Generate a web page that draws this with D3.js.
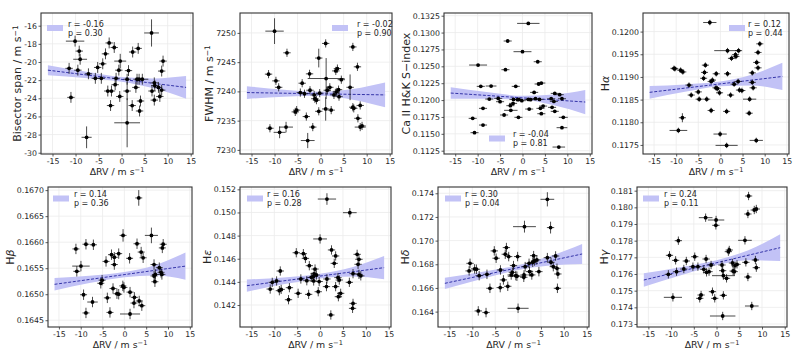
<!DOCTYPE html>
<html><head><meta charset="utf-8">
<script src="https://cdn.jsdelivr.net/npm/d3@7"></script>
<style>body{margin:0;background:#fff}svg{display:block;font-family:"DejaVu Sans",sans-serif}</style>
</head><body><svg id="c" width="800" height="357"></svg>
<script>
// ---------- DATA ----------
// points: [ΔRV, value, xerr?, yerr?]
const bisectorPts = [[-11.4,-20.7],[-11.0,-23.9],[-10.1,-17.7,2.0,0.6],[-9.5,-20.9],[-9.2,-18.8],[-9.0,-19.7,1.5,0.6],[-7.6,-28.3,1.1,1.2],[-7.2,-21.3],[-5.7,-21.8],[-5.2,-20.6],[-4.4,-21.8],[-4.1,-20.2],[-3.5,-19.1],[-3.0,-23.2],[-2.7,-17.9],[-2.4,-24.8],[-2.2,-23.2],[-1.6,-18.4],[-1.4,-22.5],[-1.2,-21.8],[-0.6,-20.9],[-0.3,-19.9,1.3,0.8],[-0.4,-23.8],[1.2,-26.7,2.8,2.7],[1.2,-21.9],[1.2,-23.2,0.8,1.0],[1.5,-20.95],[2.3,-24.8],[2.4,-18.9],[3.1,-22.8],[3.35,-21.9],[3.6,-18.5],[3.8,-21.9],[3.9,-25.4],[4.1,-24.3],[4.5,-21.9,1.3,0.6],[6.5,-16.8,1.6,1.5],[6.6,-23.2],[7.1,-22.3],[7.1,-24.2],[7.2,-22.6],[8.0,-22.8],[8.3,-23.8],[8.7,-21.0],[9.0,-19.9],[8.7,-23.1]];
const fwhmPts = [[-10.0,7250.3,2.0,2.2],[-11.3,7242.95],[-9.7,7241.8],[-9.1,7240.7],[-11.0,7233.7],[-8.9,7233.0,1.3,1.0],[-7.3,7246.6],[-7.5,7233.9,1.5,0.9],[-5.5,7236.5],[-5.2,7236.8],[-4.0,7241.4],[-4.4,7239.8],[-3.5,7239.6],[-3.1,7235.7],[-2.8,7231.6,1.5,1.3],[-2.4,7243.0],[-2.3,7240.2],[-1.7,7233.9],[-1.4,7239.4],[-1.25,7238.75],[-0.9,7238.5],[-0.4,7245.7,0.8,1.6],[-0.4,7236.6],[-0.2,7239.7],[1.1,7248.2],[1.2,7242.2,4.0,3.5],[1.1,7237.0,0.8,2.0],[1.45,7240.2],[2.0,7240.7],[2.3,7236.8],[2.9,7239.4],[3.3,7243.5],[3.4,7239.9],[3.65,7243.9],[3.9,7240.3],[4.0,7239.1],[4.5,7242.0],[6.4,7240.7,0.8,2.2],[7.0,7247.6],[7.0,7237.3],[7.2,7237.1],[8.0,7244.2],[8.1,7235.4],[8.6,7237.6],[8.6,7233.9,1.2,0.7],[9.0,7234.1]];
const caPts = [[1.3,0.13136,2.5],[-3.3,0.12875],[0.0,0.12717,2.0],[-9.9,0.12519,2.0],[3.4,0.12568],[-3.8,0.1245],[-9.3,0.12203],[-7.0,0.12208,1.2],[-1.5,0.12203],[3.6,0.12238],[4.2,0.12252],[-7.4,0.12015],[-5.4,0.12025],[-5.0,0.11976],[-2.7,0.11917],[-2.1,0.11951],[-2.0,0.1201],[-1.1,0.12006],[-0.8,0.1201],[-0.15,0.11991],[1.3,0.1201],[1.8,0.12006],[2.6,0.12114],[2.9,0.1202],[3.8,0.1201],[-8.8,0.11877],[-2.6,0.11848,1.5],[-4.1,0.11779],[-0.9,0.11744],[1.5,0.11867],[4.2,0.11798],[4.0,0.11877],[4.6,0.11911],[-11.1,0.11729],[-8.8,0.1163],[-10.7,0.11517],[6.4,0.1202],[7.2,0.12099],[8.3,0.1208],[8.8,0.1202],[6.6,0.11892],[7.2,0.11833],[9.1,0.11744,1.0],[8.8,0.11591,1.2],[8.1,0.11304,1.4],[7.0,0.1198]];
const haPts = [[-2.4,0.1202,1.5],[1.6,0.11958,3.0],[4.1,0.11958],[3.4,0.11949],[3.5,0.11945],[2.5,0.11941],[8.9,0.11973],[8.5,0.11954],[8.2,0.11932],[8.5,0.1192],[-10.5,0.11919],[-10.3,0.11918],[-9.0,0.11915],[-8.5,0.11911],[-3.4,0.11926],[-3.6,0.1191],[-3.8,0.11897],[-2.1,0.1189],[-1.8,0.11893],[-0.95,0.11907],[1.6,0.11907],[-7.1,0.11882],[-6.6,0.1186],[-5.0,0.11867],[-4.8,0.11851],[-3.1,0.11851],[-1.0,0.11876],[-0.7,0.11874],[-0.2,0.11865],[2.3,0.1186],[3.1,0.11884],[4.0,0.1189],[4.3,0.11871],[4.85,0.1187],[7.2,0.11909],[7.2,0.11888],[7.4,0.11876],[6.6,0.11851,1.5],[6.5,0.1182],[-2.1,0.11826],[1.4,0.11824],[-8.6,0.1181,0.8,0.0001],[-9.5,0.11782,2.0],[-0.07,0.11774,1.5],[1.4,0.11749,2.5],[8.1,0.1176,1.5]];
const hbPts = [[3.3,0.16685,0.8,0.00015],[-11.1,0.16587],[-8.8,0.16596],[-7.1,0.16595],[-10.9,0.16544],[-9.95,0.16554,2.0],[-9.35,0.16499],[-7.3,0.16485,1.2],[-8.8,0.16464],[-4.2,0.16563],[-5.4,0.16521],[-5.1,0.16527],[-3.9,0.16493],[-3.3,0.16465],[-2.95,0.16576],[-2.3,0.16571],[-2.3,0.16557],[-1.3,0.16578],[-2.6,0.16511],[-1.7,0.16501],[-1.3,0.165],[-0.3,0.16613,0.8,0.00012],[-0.35,0.16516],[-0.1,0.16513],[1.2,0.16569],[1.3,0.16462,2.3],[1.3,0.16504],[2.3,0.16494],[2.2,0.16483],[2.9,0.16597],[3.4,0.16487],[3.85,0.16581],[4.3,0.1657],[4.0,0.16478],[6.2,0.16613,1.5,0.00015],[6.8,0.16557],[7.1,0.16538],[6.8,0.16535],[7.0,0.16524],[8.0,0.16551],[8.4,0.16542],[8.7,0.16589],[8.9,0.16596],[8.6,0.16538]];
const hePts = [[1.5,0.15116,2.0,0.0005],[6.5,0.14998,1.5],[0.0,0.14771,1.5],[-5.2,0.14652],[-3.65,0.14644],[-3.2,0.14603],[2.5,0.14676],[3.4,0.14624],[3.1,0.1456],[8.1,0.14638],[8.5,0.14595],[8.3,0.14552],[-2.35,0.1454],[-1.1,0.14511],[-1.3,0.1447],[-8.7,0.14494],[-1.9,0.14439],[-1.5,0.14445],[-0.8,0.14459],[-4.2,0.14425],[-2.9,0.1441],[-1.4,0.14408],[-0.2,0.14403],[1.5,0.14425],[3.9,0.14437],[4.2,0.14416],[6.4,0.14396],[7.2,0.14471],[8.5,0.14465],[8.9,0.14452],[-10.45,0.14396],[-9.5,0.14408],[-10.9,0.14338],[-8.9,0.14324],[-8.5,0.14335],[-6.7,0.1435],[-6.9,0.14246],[-4.8,0.14301],[-2.5,0.14292],[-0.4,0.14315],[1.4,0.14359],[3.4,0.14359],[4.5,0.14301],[4.0,0.14272],[7.2,0.14214],[7.1,0.14171],[2.35,0.14114]];
const hdPts = [[6.4,0.17349,1.5,0.0006],[1.4,0.17118,2.5,0.0005],[7.1,0.1711,0.8,0.0005],[-2.55,0.16941],[-5.2,0.16913],[-2.8,0.16885],[-4.8,0.16851],[-2.05,0.16865],[-0.1,0.16865],[3.4,0.16873],[3.6,0.16828],[4.1,0.16837],[6.4,0.16856],[8.2,0.1687],[-10.5,0.16808],[-10.7,0.16744],[-9.5,0.16761],[-9.1,0.16758],[-8.5,0.16704],[-6.8,0.16715],[-3.85,0.16752],[-3.2,0.16668],[-3.9,0.16603],[-2.25,0.16614],[-1.5,0.1671],[-1.25,0.16732],[-1.0,0.16789],[-0.5,0.16704],[-0.25,0.16699,2.0],[1.25,0.1669],[1.3,0.1671],[1.55,0.1678],[2.4,0.16808],[2.5,0.16738],[3.0,0.1671],[3.2,0.16817],[4.55,0.16738],[7.2,0.16817],[7.7,0.1678],[8.5,0.16766],[8.7,0.16718],[8.6,0.16597],[-6.15,0.16597],[-8.7,0.16406],[-7.0,0.16392],[0.0,0.16428,2.3]];
const hgPts = [[7.05,0.18068],[6.9,0.1796],[8.3,0.17984],[8.75,0.1799],[-2.4,0.17938,1.5],[-0.1,0.17924,1.8],[-0.15,0.17892],[-8.4,0.178],[6.25,0.17802,1.5],[2.8,0.17744],[2.6,0.17734],[-10.35,0.17712],[-9.0,0.17682],[-6.65,0.17678],[-4.8,0.17704],[-2.3,0.1769],[-1.2,0.17654],[6.45,0.1767],[8.55,0.17684],[8.75,0.17638],[-5.2,0.17644],[-4.1,0.17644],[-7.2,0.1763],[-8.8,0.17614],[-10.6,0.17598],[-2.8,0.17628],[-2.2,0.1761],[-1.65,0.17614],[1.2,0.17654],[1.35,0.1762],[1.5,0.1759,2.5],[2.2,0.17574],[3.5,0.17666],[4.05,0.1765],[3.65,0.17618],[3.9,0.17614],[4.5,0.17658],[6.9,0.17582],[-3.4,0.17474],[-3.7,0.17454],[-0.9,0.17494],[-0.4,0.17454],[1.5,0.17472],[-9.6,0.1746,2.0],[7.75,0.17408,1.5],[1.35,0.17348,2.8]];

const panelPoints = [bisectorPts, fwhmPts, caPts, haPts, hbPts, hePts, hdPts, hgPts];
// default error bars per panel [xerr, yerr]
const defaultErr = [[0.8,0.6],[0.8,0.7],[0.9,0.00006],[0.8,0.00006],[0.8,0.0001],[0.8,0.0004],[0.8,0.0004],[0.8,0.00025]];
// fitted line: value at ΔRV = -16 and ΔRV = 14
const fitEnds = [[-20.9,-22.8],[7239.8,7239.4],[0.12104,0.11971],[0.11866,0.11901],[0.16519,0.16554],[0.14367,0.14523],[0.16639,0.16887],[0.17564,0.17758]];
// confidence band half-width at bandX
const bandX = [-16,-8,0,7,14];
const bandHalf = [
  [0.55,0.35,0.25,0.55,1.25],
  [1.1,0.6,0.35,0.9,2.1],
  [0.00085,0.0005,0.0003,0.0008,0.0018],
  [0.00014,0.00008,0.00005,0.00012,0.0003],
  [0.00012,0.00007,0.00005,0.0001,0.00026],
  [0.00053,0.0003,0.0002,0.0004,0.001],
  [0.00048,0.0003,0.0002,0.0004,0.00085],
  [0.0004,0.00025,0.00015,0.0003,0.0008]];
const rVals = ["-0.16","-0.02","-0.04","0.12","0.14","0.16","0.30","0.24"];
const pVals = ["0.30","0.90","0.81","0.44","0.36","0.28","0.04","0.11"];
const xTicks = [-15,-10,-5,0,5,10,15];
const yTicks = [
  [-30,-28,-26,-24,-22,-20,-18,-16],
  [7230,7235,7240,7245,7250],
  [0.1125,0.1150,0.1175,0.1200,0.1225,0.1250,0.1275,0.1300,0.1325],
  [0.1175,0.1180,0.1185,0.1190,0.1195,0.1200],
  [0.1645,0.1650,0.1655,0.1660,0.1665,0.1670],
  [0.142,0.144,0.146,0.148,0.150,0.152],
  [0.164,0.166,0.168,0.170,0.172,0.174],
  [0.173,0.174,0.175,0.176,0.177,0.178,0.179,0.180,0.181]];
const yDecimals = [0,0,4,4,4,3,3,3];
const yDomains = [[-30.14,-14.6],[7229.3,7253.4],[0.11201,0.1329],[0.1173,0.12041],[0.16437,0.16706],[0.1401,0.1522],[0.1627,0.17453],[0.17282,0.18122]];
// y-axis labels: [plain part, italic greek part, superscript]
const yLabels = [["Bisector span / m s","","−1"],["FWHM / m s","","−1"],["Ca II H&K S−index","",""],["H","α",""],["H","β",""],["H","ε",""],["H","δ",""],["H","γ",""]];
const xDomain = [-17.5,15.5];

// ---------- LAYOUT ----------
const frames = [[41,13,193,154],[240,13,392,154],[444,13,592,154],[643,13,789,154],
                [48,187,192,327],[240,187,391,327],[438,187,589,327],[637,187,787,327]];
const legendXY = [[47,68,26.5],[332,357,26.5],[489,513,137],[729,748,26.5],[53,74,197],[247,267,197],[445,465,197],[643,664,197]];

const BAND = "#c2c2f6", LINE = "#3434a8", INK = "#262626";
const TICKFS = 7.8;
const svg = d3.select("#c");
svg.append("rect").attr("width",800).attr("height",357).attr("fill","#fff");

panelPoints.forEach((pts,i)=>{
  const [L,T,R,B] = frames[i];
  const x = d3.scaleLinear().domain(xDomain).range([L,R]);
  const y = d3.scaleLinear().domain(yDomains[i]).range([B,T]);
  const g = svg.append("g");
  const cid = "clip"+i;
  g.append("clipPath").attr("id",cid).append("rect").attr("x",L).attr("y",T).attr("width",R-L).attr("height",B-T);
  // grid
  g.append("g").selectAll("line").data(xTicks).join("line")
    .attr("x1",d=>x(d)).attr("x2",d=>x(d)).attr("y1",T).attr("y2",B)
    .attr("stroke","#ebebeb").attr("stroke-width",0.8);
  g.append("g").selectAll("line").data(yTicks[i]).join("line")
    .attr("y1",d=>y(d)).attr("y2",d=>y(d)).attr("x1",L).attr("x2",R)
    .attr("stroke","#ebebeb").attr("stroke-width",0.8);
  const plot = g.append("g").attr("clip-path",`url(#${cid})`);
  const fit = v => fitEnds[i][0] + (fitEnds[i][1]-fitEnds[i][0])*(v+16)/30;
  const bandData = bandX.map((bx,k)=>({x:bx, lo:fit(bx)-bandHalf[i][k], hi:fit(bx)+bandHalf[i][k]}));
  plot.append("path").datum(bandData)
    .attr("d", d3.area().x(d=>x(d.x)).y0(d=>y(d.lo)).y1(d=>y(d.hi)).curve(d3.curveMonotoneX))
    .attr("fill",BAND).attr("stroke","none");
  plot.append("path").datum([-16,14])
    .attr("d", d3.line().x(d=>x(d)).y(d=>y(fit(d))))
    .attr("fill","none").attr("stroke",LINE).attr("stroke-width",1).attr("stroke-dasharray","3,1.6");
  const de = defaultErr[i];
  const P = pts.map(p=>({x:p[0], y:p[1], xe:p[2]!=null?p[2]:de[0], ye:p[3]!=null?p[3]:de[1]}));
  plot.append("g").selectAll("line").data(P).join("line")
    .attr("x1",d=>x(d.x-d.xe)).attr("x2",d=>x(d.x+d.xe)).attr("y1",d=>y(d.y)).attr("y2",d=>y(d.y))
    .attr("stroke","#111").attr("stroke-width",0.9).attr("stroke-opacity",0.85);
  plot.append("g").selectAll("line").data(P).join("line")
    .attr("x1",d=>x(d.x)).attr("x2",d=>x(d.x)).attr("y1",d=>y(d.y-d.ye)).attr("y2",d=>y(d.y+d.ye))
    .attr("stroke","#111").attr("stroke-width",0.9).attr("stroke-opacity",0.85);
  plot.append("g").selectAll("circle").data(P).join("circle")
    .attr("cx",d=>x(d.x)).attr("cy",d=>y(d.y)).attr("r",1.9).attr("fill","#000");
  // frame
  g.append("rect").attr("x",L).attr("y",T).attr("width",R-L).attr("height",B-T)
    .attr("fill","none").attr("stroke","#333").attr("stroke-width",1.1);
  // axes
  const ax = g.append("g").attr("transform",`translate(0,${B})`)
    .call(d3.axisBottom(x).tickValues(xTicks).tickSize(2.5).tickPadding(1.5).tickFormat(d=>String(d)));
  const ay = g.append("g").attr("transform",`translate(${L},0)`)
    .call(d3.axisLeft(y).tickValues(yTicks[i]).tickSize(2.5).tickPadding(1.5).tickFormat(d=>d.toFixed(yDecimals[i])));
  [ax,ay].forEach(a=>{
    a.select(".domain").remove();
    a.selectAll("line").attr("stroke","#333").attr("stroke-width",0.8);
    a.selectAll("text").attr("fill",INK).style("font-size",TICKFS+"px").style("font-family","DejaVu Sans");
  });
  // widest y tick label -> place y label left of it
  let maxW = 0;
  ay.selectAll("text").each(function(){ maxW = Math.max(maxW, this.getComputedTextLength()); });
  const ylx = L - 4 - maxW - 3;
  // x label
  const xl = g.append("text").attr("x",(L+R)/2).attr("y",B+20.5).attr("text-anchor","middle")
    .attr("fill",INK).style("font-size","9.4px");
  xl.append("tspan").text("ΔRV / m s");
  xl.append("tspan").text("−1").attr("dy","-0.45em").style("font-size","6.6px");
  // y label
  const yl = g.append("text").attr("transform",`translate(${ylx},${(T+B)/2}) rotate(-90)`)
    .attr("text-anchor","middle").attr("fill",INK).style("font-size","11px");
  yl.append("tspan").text(yLabels[i][0]);
  if (yLabels[i][1]) yl.append("tspan").text(yLabels[i][1]).style("font-style","italic");
  if (yLabels[i][2]) yl.append("tspan").text(yLabels[i][2]).attr("dy","-0.45em").style("font-size","7.6px");
  // legend
  const [px,tx,by] = legendXY[i];
  g.append("rect").attr("x",px).attr("y",by-1.5).attr("width",16).attr("height",6).attr("fill",BAND);
  g.append("text").attr("x",tx).attr("y",by).attr("fill",INK).style("font-size","8px").text("r = "+rVals[i]);
  g.append("text").attr("x",tx).attr("y",by+9.4).attr("fill",INK).style("font-size","8px").text("p = "+pVals[i]);
});
</script>
</body></html>
